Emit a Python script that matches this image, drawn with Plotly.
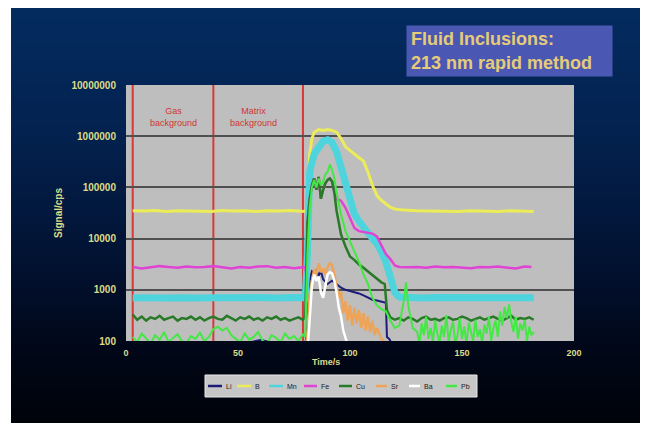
import plotly.graph_objects as go

# ---------------- data ----------------
elements = ["Li", "B", "Mn", "Fe", "Cu", "Sr", "Ba", "Pb"]
colors = {"Li": "#1c1c78", "B": "#ecec58", "Mn": "#4ed4dc", "Fe": "#e044d4",
          "Cu": "#287a28", "Sr": "#eea458", "Ba": "#ffffff", "Pb": "#44e844"}
widths = {"Li": 2, "B": 3, "Mn": 7, "Fe": 2.5, "Cu": 2.5, "Sr": 2.5, "Ba": 2.5, "Pb": 2}

Li_t = [3, 15, 30, 45, 60, 70, 79, 80, 81, 82, 83, 84, 85, 86, 87, 88,
        90, 92, 94, 96, 98, 100, 102, 104, 106, 108, 110, 112, 114, 116,
        116.5, 117.5, 120, 140, 160, 182]
Li = [80, 70, 90, 75, 105, 85, 80, 80, 200, 1500, 2300, 2100, 2400, 1900, 2300, 1600,
      1300, 1500, 1300, 1100, 1000, 950, 900, 850, 780, 700, 640, 620, 590, 560,
      120, 110, 70, 80, 75, 70]

B_t = [3, 8, 13, 18, 23, 28, 33, 38, 43, 48, 53, 58, 63, 68, 73, 78,
       80, 81, 81.5, 82, 83, 84, 86, 88, 90, 92, 94, 96, 98, 100, 102, 104, 106, 108, 110, 112,
       113, 114, 116, 118, 120, 124, 130, 136, 142, 148, 154, 160, 166, 172, 178, 182]
B = [35000, 34500, 35500, 34000, 35000, 34500, 35000, 34000, 35500, 34500, 35000, 34000, 35000, 34500, 35500, 34500,
     34000, 40000, 120000, 450000, 900000, 1200000, 1350000, 1300000, 1350000, 1300000, 1200000, 900000, 620000,
     520000, 450000, 380000, 330000, 200000, 110000, 70000,
     62000, 56000, 48000, 41000, 38000, 36000, 35000, 34500, 35000, 34000, 35000, 34500, 34000, 35000, 34500, 34000]

Mn_t = [3, 8, 13, 18, 23, 28, 33, 38, 43, 48, 53, 58, 63, 68, 73, 78,
        80, 81, 82, 84, 86, 88, 90, 92, 94, 96, 98, 100, 102, 104, 106, 108, 110, 112, 114, 116, 118, 120, 122,
        126, 132, 138, 144, 150, 156, 162, 168, 174, 182]
Mn = [700, 680, 710, 690, 700, 720, 690, 700, 680, 700, 710, 690, 700, 690, 710, 700,
      700, 5000, 200000, 450000, 600000, 800000, 850000, 750000, 500000, 250000, 100000, 50000, 30000, 22000,
      16000, 13000, 10000, 8000, 5500, 3500, 1800, 900, 720,
      700, 690, 710, 700, 690, 700, 710, 690, 700, 700]

Fe_t = [3, 7, 11, 15, 19, 23, 27, 31, 35, 39, 43, 47, 51, 55, 59, 63, 67, 71, 75, 79,
        80, 80.5, 81, 82, 83, 84, 85, 86, 87, 88, 89, 90, 91, 92, 93, 94, 96, 98, 100, 102, 104, 106, 108,
        110, 112, 114, 116, 118, 120, 122,
        126, 130, 134, 138, 142, 146, 150, 154, 158, 162, 166, 170, 174, 178, 181]
Fe = [2800, 2600, 2750, 2900, 2800, 2700, 2850, 2750, 2800, 2900, 2750, 2600, 2800, 2700, 2850, 2900, 2700, 2800, 2650, 2800,
      2800, 2000, 20000, 60000, 110000, 150000, 90000, 160000, 60000, 90000, 120000, 140000, 150000, 130000,
      80000, 60000, 55000, 40000, 25000, 16000, 14000, 13500, 13000,
      12500, 11000, 7500, 5000, 4000, 3000, 2800,
      2750, 2800, 2700, 2850, 2750, 2800, 2700, 2650, 2800, 2750, 2850, 2700, 2600, 2850, 2800]

Cu_t = [3, 5, 7, 9, 11, 13, 15, 17, 19, 21, 23, 25, 27, 29, 31, 33, 35, 37, 39, 41, 43, 45, 47, 49, 51, 53,
        55, 57, 59, 61, 63, 65, 67, 69, 71, 73, 75, 77, 79,
        80, 80.5, 81, 82, 83, 84, 85, 86, 87, 88, 89, 90, 91, 92, 93, 94, 96, 98, 100, 102, 104, 106, 108,
        110, 112, 114, 115.5, 116.5, 118,
        120, 122, 124, 126, 128, 130, 132, 134, 136, 138, 140, 142, 144, 146, 148, 150, 152, 154, 156, 158,
        160, 162, 164, 166, 168, 170, 172, 174, 176, 178, 180, 182]
Cu = [330, 260, 300, 250, 290, 270, 310, 260, 280, 300, 250, 280, 270, 300, 260, 290, 250, 280, 300, 270,
      260, 310, 280, 250, 290, 270, 300, 260, 280, 250, 290, 270, 300, 260, 280, 250, 270, 290, 260,
      300, 2000, 20000, 60000, 110000, 150000, 90000, 160000, 60000, 90000, 120000, 140000, 150000, 130000,
      80000, 35000, 12000, 7000, 4500, 3800, 3100, 2700, 2300, 2000, 1700, 1400, 1300, 400, 290,
      260, 280, 250, 290, 270, 240, 280, 300, 260, 270, 250, 280, 290, 260, 270, 300, 280, 250, 270, 290,
      260, 280, 300, 270, 250, 280, 310, 260, 280, 270, 290, 260]

Sr_t = [3, 40, 79, 80, 81, 82, 83, 84, 85, 86, 87, 88, 89, 90, 91, 92, 93, 94, 95, 96, 97, 98, 99, 100,
        101, 102, 103, 104, 105, 106, 107, 108, 109, 110, 111, 112, 114, 116, 120, 182]
Sr = [60, 60, 60, 60, 150, 800, 1500, 2500, 2000, 3300, 2200, 2600, 2000, 2800, 3300, 3000, 2000, 1200,
      700, 900, 350, 600, 250, 500, 200, 450, 220, 400, 180, 350, 160, 300, 150, 250, 130, 180, 110, 90, 60, 60]

Ba_t = [3, 40, 79, 81, 82, 83, 84, 85, 86, 87, 88, 89, 90, 91, 92, 93, 94, 95, 96, 97, 98, 99, 100, 120, 182]
Ba = [50, 50, 50, 60, 300, 1200, 2000, 1500, 1800, 900, 700, 1200, 2000, 2200, 2100, 1500, 900, 450, 300,
      160, 110, 80, 60, 50, 50]

Pb_t = ([3, 5, 7, 9, 11, 13, 15, 17, 19, 21, 23, 25, 27, 29, 31, 33, 35, 37, 39, 41, 43, 45, 47, 49, 51, 53,
         55, 57, 59, 61, 63, 65, 67, 69, 71, 73, 75, 77, 79,
         80, 81, 82, 83, 84, 85, 86, 87, 88, 89, 90, 91, 92, 93, 94, 96, 98, 100, 102, 104, 106, 108, 110,
         112, 114, 116, 118, 120, 122, 124, 125, 126, 128]
        + list(range(130, 183)))
Pb = [120, 95, 140, 110, 90, 130, 105, 150, 95, 115, 135, 100, 90, 125, 110, 145, 100, 120, 170, 190,
      160, 180, 130, 110, 95, 140, 105, 120, 150, 100, 90, 130, 115, 95, 140, 110, 125, 100, 135,
      120, 5000, 40000, 100000, 140000, 100000, 150000, 110000, 130000, 180000, 200000, 280000, 220000,
      150000, 80000, 30000, 14000, 9000, 5500, 3500, 2000, 1300, 700, 500, 420, 380, 250, 180, 200, 600,
      1400, 500, 180,
      150, 90, 220, 130, 300, 110, 180, 95, 250, 140, 90, 200, 120, 320, 100, 160, 240, 90, 130, 280,
      110, 190, 85, 230, 150, 100, 260, 120, 170, 90, 210, 140, 300, 100, 180, 250, 120, 380, 200, 460,
      280, 520, 240, 150, 300, 110, 220, 160, 260, 100, 190, 130, 150]

series = {"Li": (Li_t, Li), "B": (B_t, B), "Mn": (Mn_t, Mn), "Fe": (Fe_t, Fe),
          "Cu": (Cu_t, Cu), "Sr": (Sr_t, Sr), "Ba": (Ba_t, Ba), "Pb": (Pb_t, Pb)}

y_ticks = [100, 1000, 10000, 100000, 1000000, 10000000]
y_ticktext = ["100", "1000", "10000", "100000", "1000000", "10000000"]
x_ticks = [0, 50, 100, 150, 200]
boundaries = [3, 39, 79]          # time (s) of segment markers
region_labels = ["Gas<br>background", "Matrix<br>background"]
region_label_x = [21, 57]

# ---------------- layout helpers ----------------
OFF = 8  # page body margin
W, H = 640, 415
ML, MR, MT, MB = 118, 74, 77, 82
PW, PH = W - ML - MR, H - MT - MB


def pxx(x):
    return (x - OFF - ML) / PW


def pxy(y):
    return (H - MB - (y - OFF)) / PH


fig = go.Figure()
for el in elements:
    t, v = series[el]
    fig.add_trace(go.Scatter(x=t, y=v, mode="lines", name=el, showlegend=False,
                             line=dict(color=colors[el], width=widths[el])))

shapes = []
# gradient background
stops = [(0, (4, 44, 96)), (130, (3, 34, 80)), (260, (2, 18, 50)), (350, (1, 7, 24)), (430, (0, 2, 8))]


def col_at(y):
    for (y0, c0), (y1, c1) in zip(stops[:-1], stops[1:]):
        if y0 <= y <= y1:
            f = (y - y0) / (y1 - y0)
            return "rgb(%d,%d,%d)" % tuple(round(a + (b - a) * f) for a, b in zip(c0, c1))
    return "rgb(0,2,8)"


y = OFF
step = 4
while y < H + OFF:
    shapes.append(dict(type="rect", xref="paper", yref="paper", layer="below",
                       x0=pxx(11), x1=pxx(W + OFF + 2), y0=pxy(min(y + step + 1, H + OFF)), y1=pxy(y),
                       fillcolor=col_at(y + step / 2), line=dict(width=0)))
    y += step
# plot area
shapes.append(dict(type="rect", xref="paper", yref="paper", layer="below",
                   x0=0, x1=1, y0=0, y1=1, fillcolor="#bebebe", line=dict(width=0)))
# red segment markers
for b in boundaries:
    shapes.append(dict(type="line", xref="x", yref="paper", layer="between",
                       x0=b, x1=b, y0=0, y1=1, line=dict(color="#d83838", width=2)))
shapes.append(dict(type="line", xref="x", yref="y", layer="between",
                   x0=boundaries[0], x1=boundaries[-1], y0=4, y1=4,
                   line=dict(color="#d83838", width=2)))

annotations = []
for lab, lx in zip(region_labels, region_label_x):
    annotations.append(dict(x=lx, y=6.37, xref="x", yref="y", text=lab, showarrow=False,
                            xanchor="center", yanchor="middle",
                            font=dict(family="Liberation Sans", size=9, color="#d03434"),
                            align="center"))
# title box
annotations.append(dict(x=pxx(509.5), y=pxy(51), xref="paper", yref="paper",
                        text="<b>Fluid Inclusions:<br>213 nm rapid method</b>", showarrow=False,
                        align="left", width=197, height=42, borderpad=4, bgcolor="#4a58b4",
                        font=dict(family="Liberation Sans", size=18, color="#e6cc78"),
                        xanchor="center", yanchor="middle"))
# axis titles
tick_col = "#dcdc88"
annotations.append(dict(x=pxx(326), y=pxy(362), xref="paper", yref="paper", text="<b>Time/s</b>",
                        showarrow=False, xanchor="center", yanchor="middle",
                        font=dict(family="Liberation Sans", size=9, color=tick_col)))
annotations.append(dict(x=pxx(58), y=0.5, xref="paper", yref="paper", text="<b>Signal/cps</b>",
                        showarrow=False, textangle=-90, xanchor="center", yanchor="middle",
                        font=dict(family="Liberation Sans", size=10, color=tick_col)))

# legend (drawn)
shapes.append(dict(type="rect", xref="paper", yref="paper", layer="above",
                   x0=pxx(205), x1=pxx(477), y0=pxy(397), y1=pxy(375),
                   fillcolor="#c6c6c6", line=dict(color="#e8e8e8", width=1)))
leg_x = [208, 237, 269, 304, 339, 376, 409, 446]
leg_len = [14, 14, 14, 13, 13, 11, 11, 11]
for el, lx, ll in zip(elements, leg_x, leg_len):
    shapes.append(dict(type="line", xref="paper", yref="paper", layer="above",
                       x0=pxx(lx), x1=pxx(lx + ll), y0=pxy(386), y1=pxy(386),
                       line=dict(color=colors[el], width=2.5)))
    annotations.append(dict(x=pxx(lx + ll + 2), y=pxy(386), xref="paper", yref="paper",
                            text=el, showarrow=False, xanchor="left", yanchor="middle",
                            font=dict(family="Liberation Sans", size=7, color="#202020")))

fig.update_layout(
    width=W, height=H, margin=dict(l=ML, r=MR, t=MT, b=MB, autoexpand=False),
    paper_bgcolor="white", plot_bgcolor="rgba(0,0,0,0)",
    shapes=shapes, annotations=annotations, showlegend=False,
    xaxis=dict(range=[0, 200], tickvals=x_ticks, showgrid=False, zeroline=False, showline=False,
               ticks="", ticklabelstandoff=5,
               tickfont=dict(family="Liberation Sans", size=9, color=tick_col, weight="bold"),
               fixedrange=True),
    yaxis=dict(type="log", range=[2, 7], tickvals=y_ticks, ticktext=y_ticktext, showgrid=True,
               gridcolor="#505050", gridwidth=1.5, zeroline=False, showline=False, ticks="",
               ticklabelstandoff=9,
               tickfont=dict(family="Liberation Sans", size=10, color=tick_col, weight="bold"),
               fixedrange=True),
)

fig.write_html("out.html")
